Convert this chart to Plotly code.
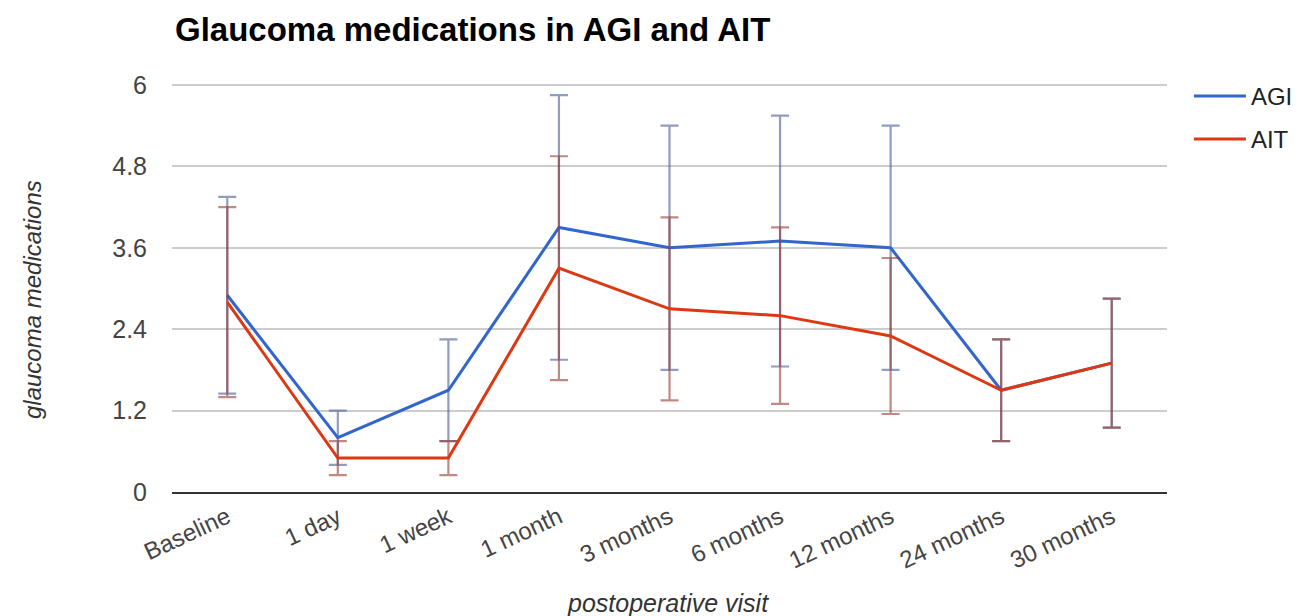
import plotly.graph_objects as go

visits = ["Baseline", "1 day", "1 week", "1 month", "3 months", "6 months",
          "12 months", "24 months", "30 months"]
agi = [2.9, 0.8, 1.5, 3.9, 3.6, 3.7, 3.6, 1.5, 1.9]
agi_err = [1.45, 0.4, 0.75, 1.95, 1.8, 1.85, 1.8, 0.75, 0.95]
ait = [2.8, 0.5, 0.5, 3.3, 2.7, 2.6, 2.3, 1.5, 1.9]
ait_err = [1.4, 0.25, 0.25, 1.65, 1.35, 1.3, 1.15, 0.75, 0.95]
yticks = [0, 1.2, 2.4, 3.6, 4.8, 6]

font = "Liberation Sans, Arial, sans-serif"

fig = go.Figure()
fig.add_trace(go.Scatter(
    x=visits, y=agi, name="AGI", mode="lines", legendgroup="a",
    line=dict(color="#3366cc", width=3),
    error_y=dict(type="data", array=agi_err, visible=True,
                 color="rgba(70,90,150,0.6)", thickness=2.2, width=9),
))
fig.add_trace(go.Scatter(
    x=visits, y=ait, name="AIT", mode="lines", legendgroup="b",
    line=dict(color="#dc3912", width=3),
    error_y=dict(type="data", array=ait_err, visible=True,
                 color="rgba(150,60,50,0.6)", thickness=2.2, width=9),
))

fig.update_layout(
    width=1299, height=608,
    margin=dict(l=164, r=140, t=76, b=124, autoexpand=False),
    paper_bgcolor="white", plot_bgcolor="white",
    font=dict(family=font, color="#444"),
    title=dict(text="<b>Glaucoma medications in AGI and AIT</b>",
               x=167 / 1299, xanchor="left", y=1 - 21 / 608, yanchor="middle",
               font=dict(size=33, color="#000", family=font)),
    legend=dict(x=1.022, y=1.025, xanchor="left", yanchor="top",
                font=dict(size=24, color="#222"), tracegroupgap=9,
                itemwidth=52,
                traceorder="grouped", bgcolor="rgba(0,0,0,0)"),
    xaxis=dict(
        type="category", range=[-0.5, 8.5], tickangle=-25, automargin=False,
        tickfont=dict(size=24, color="#444"), showgrid=False,
        showline=True, linecolor="#333", linewidth=2, ticks="",
    ),
    yaxis=dict(
        range=[0, 6.015], tickvals=yticks, ticktext=[f"{v:g}" for v in yticks],
        tickfont=dict(size=25, color="#444"), showgrid=True, automargin=False,
        gridcolor="#cccccc", gridwidth=1.5, zeroline=False, ticks="",
        ticklabelstandoff=24,
    ),
    annotations=[
        dict(text="<i>glaucoma medications</i>", textangle=-90,
             xref="paper", yref="paper", x=(24 - 164) / 995, y=(484 - 292) / 408,
             xanchor="center", yanchor="middle", showarrow=False,
             font=dict(size=24, color="#333", family=font)),
        dict(text="<i>postoperative visit</i>",
             xref="paper", yref="paper", x=(660 - 164) / 995, y=(484 - 595) / 408,
             xanchor="center", yanchor="middle", showarrow=False,
             font=dict(size=25, color="#333", family=font)),
    ],
)

fig.write_html("out.html")
